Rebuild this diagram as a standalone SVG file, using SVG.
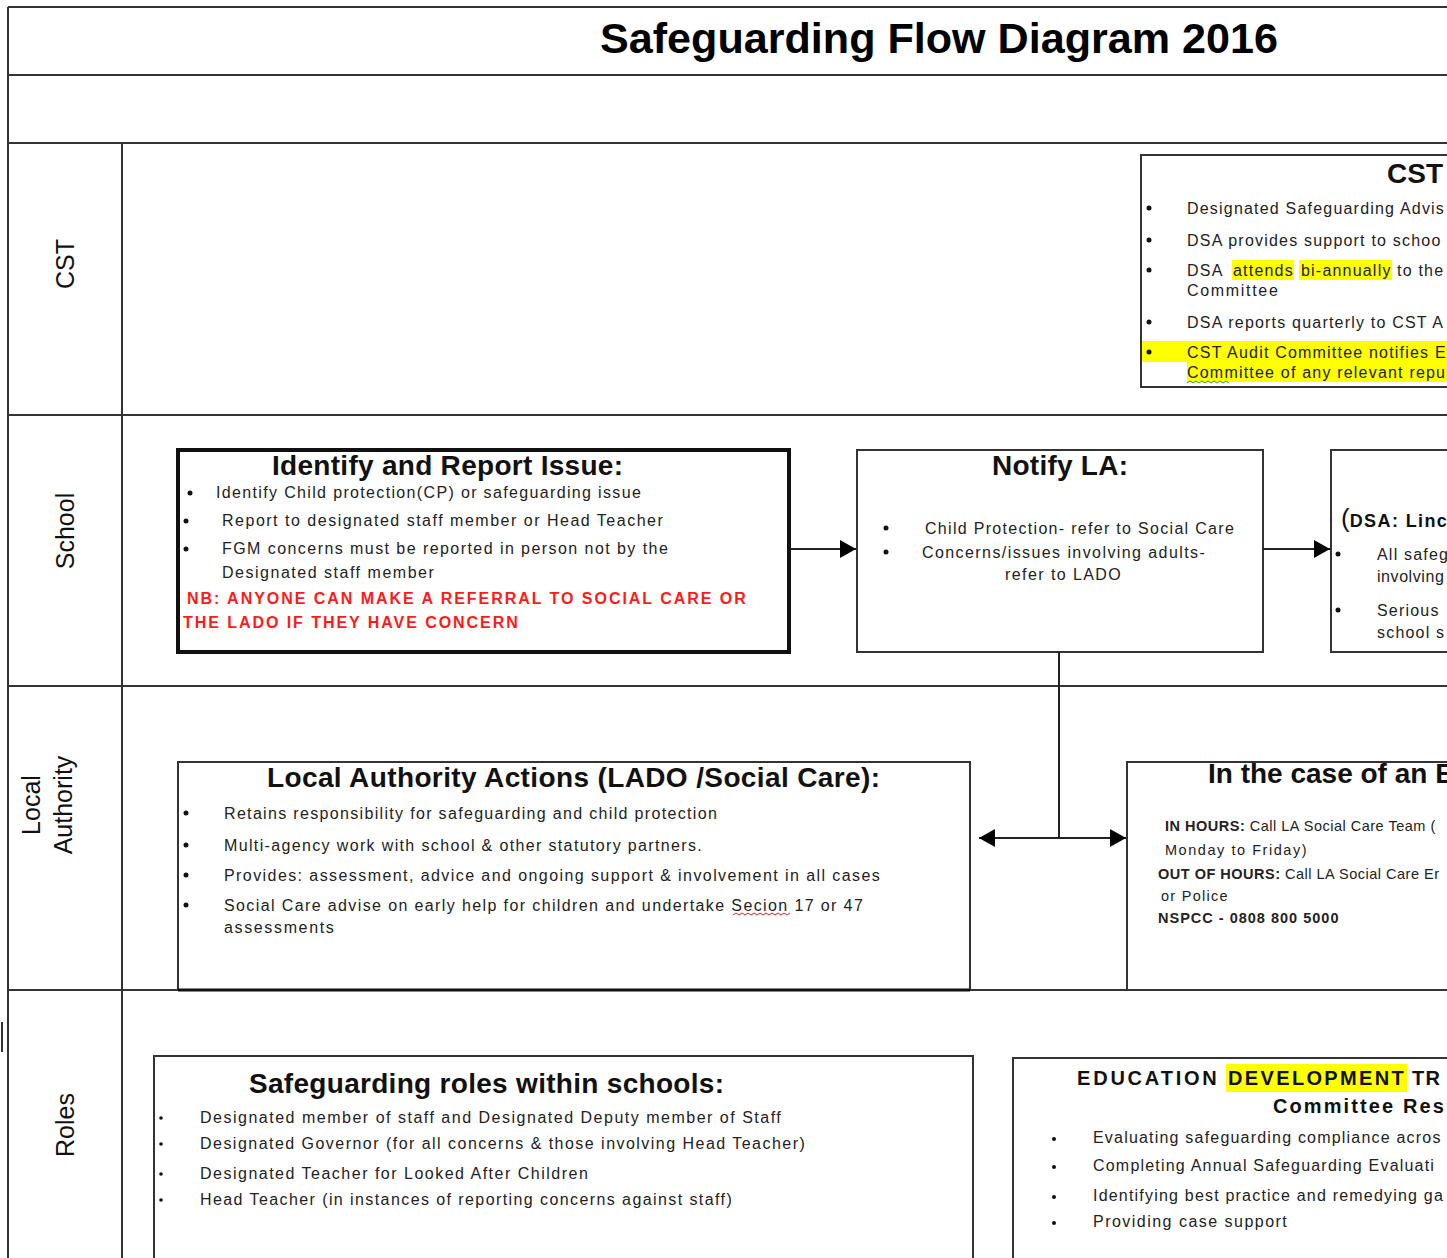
<svg xmlns="http://www.w3.org/2000/svg" width="1447" height="1258" viewBox="0 0 1447 1258">
<defs>
<style>
.grid{stroke:#333;stroke-width:2;fill:none}
.box{fill:#fff;stroke:#333;stroke-width:2}
.thick{fill:#fff;stroke:#111;stroke-width:4}
.t{font-family:"Liberation Sans",Arial,sans-serif;font-size:16px;fill:#222;letter-spacing:1.2px}
.h{font-family:"Liberation Sans",Arial,sans-serif;font-size:28px;font-weight:bold;fill:#111}
.lane{font-family:"Liberation Sans",Arial,sans-serif;font-size:25px;fill:#111}
.red{font-family:"Liberation Sans",Arial,sans-serif;font-size:16px;font-weight:bold;fill:#ff1a1a;letter-spacing:1.3px}
.cal{font-family:"Liberation Sans",Arial,sans-serif;font-size:14.5px;fill:#222;letter-spacing:0.5px}
.calb{font-weight:bold}
.edt{font-family:"Liberation Sans",Arial,sans-serif;font-size:20px;font-weight:bold;fill:#111;letter-spacing:1.2px}
.hl{fill:#ffff00}
.bul{fill:#111}
.conn{stroke:#222;stroke-width:2;fill:none}
</style>
<marker id="ah" viewBox="0 0 16 18" refX="16" refY="9" markerWidth="16" markerHeight="18" markerUnits="userSpaceOnUse" orient="auto-start-reverse">
<path d="M0,0 L16,9 L0,18 Z" fill="#000"/>
</marker>
</defs>
<rect width="1447" height="1258" fill="#fff"/>

<g id="grid">
<line class="grid" x1="8" y1="7" x2="1447" y2="7"/>
<line class="grid" x1="8" y1="7" x2="8" y2="1258"/>
<line class="grid" x1="8" y1="75" x2="1447" y2="75"/>
<line class="grid" x1="8" y1="143" x2="1447" y2="143"/>
<line class="grid" x1="122" y1="143" x2="122" y2="1258"/>
<line class="grid" x1="8" y1="415" x2="1447" y2="415"/>
<line class="grid" x1="8" y1="686" x2="1447" y2="686"/>
<line class="grid" x1="8" y1="990" x2="1447" y2="990"/>
<line x1="2" y1="1022" x2="2" y2="1052" stroke="#333" stroke-width="2"/>
</g>

<g id="title">
<text x="600" y="53" font-family="Liberation Sans,Arial,sans-serif" font-size="42" font-weight="bold" fill="#000" textLength="678" lengthAdjust="spacingAndGlyphs">Safeguarding Flow Diagram 2016</text>
</g>

<g id="lane-labels">
<text class="lane" transform="translate(74,264) rotate(-90)" text-anchor="middle">CST</text>
<text class="lane" transform="translate(74,531) rotate(-90)" text-anchor="middle">School</text>
<text class="lane" transform="translate(40,805) rotate(-90)" text-anchor="middle">Local</text>
<text class="lane" transform="translate(72,805) rotate(-90)" text-anchor="middle">Authority</text>
<text class="lane" transform="translate(74,1125) rotate(-90)" text-anchor="middle">Roles</text>
</g>

<g id="cst-box">
<rect class="box" x="1141" y="155" width="320" height="232"/>
<rect class="hl" x="1232" y="260" width="62" height="20"/>
<rect class="hl" x="1299" y="260" width="93" height="20"/>
<rect class="hl" x="1142" y="341" width="306" height="21"/>
<rect class="hl" x="1187" y="362" width="261" height="20"/>
<text class="h" x="1387" y="183" textLength="56">CST</text>
<circle class="bul" cx="1149" cy="208" r="2.5"/>
<circle class="bul" cx="1149" cy="240" r="2.5"/>
<circle class="bul" cx="1149" cy="270" r="2.5"/>
<circle class="bul" cx="1149" cy="322" r="2.5"/>
<circle class="bul" cx="1149" cy="352" r="2.5"/>
<text class="t" x="1187" y="214">Designated Safeguarding Advis</text>
<text class="t" x="1187" y="246">DSA provides support to schoo</text>
<text class="t" y="276"><tspan x="1187">DSA</tspan><tspan x="1233">attends</tspan><tspan x="1301">bi-annually</tspan><tspan x="1397">to the</tspan></text>
<text class="t" x="1187" y="296" textLength="92">Committee</text>
<text class="t" x="1187" y="328">DSA reports quarterly to CST A</text>
<text class="t" x="1187" y="358">CST Audit Committee notifies E</text>
<text class="t" x="1187" y="378">Committee of any relevant repu</text>
<polyline points="1187,383 1190,381 1193,383 1196,381 1199,383 1202,381 1205,383 1208,381 1211,383 1214,381 1217,383 1220,381 1223,383 1226,381 1229,383" fill="none" stroke="#2a9d2a" stroke-width="1"/>
</g>

<g id="identify">
<rect class="thick" x="178" y="450" width="611" height="202"/>
<text class="h" x="272" y="475" textLength="351">Identify and Report Issue:</text>
<circle class="bul" cx="190" cy="493" r="2.5"/>
<circle class="bul" cx="186" cy="521" r="2.5"/>
<circle class="bul" cx="186" cy="549" r="2.5"/>
<text class="t" x="216" y="498" textLength="426">Identify Child protection(CP) or safeguarding issue</text>
<text class="t" x="222" y="526" textLength="442">Report to designated staff member or Head Teacher</text>
<text class="t" x="222" y="554" textLength="447">FGM concerns must be reported in person not by the</text>
<text class="t" x="222" y="578" textLength="213">Designated staff member</text>
<text class="red" x="187" y="604" textLength="560">NB: ANYONE CAN MAKE A REFERRAL TO SOCIAL CARE OR</text>
<text class="red" x="183" y="628" textLength="336">THE LADO IF THEY HAVE CONCERN</text>
</g>

<g id="notify-la">
<rect class="box" x="857" y="450" width="406" height="202"/>
<text class="h" x="992" y="475" textLength="136">Notify LA:</text>
<circle class="bul" cx="886" cy="528" r="2.5"/>
<circle class="bul" cx="886" cy="552" r="2.5"/>
<text class="t" x="925" y="534" textLength="310">Child Protection- refer to Social Care</text>
<text class="t" x="922" y="558" textLength="284">Concerns/issues involving adults-</text>
<text class="t" x="1005" y="580" textLength="117">refer to LADO</text>
</g>

<g id="dsa">
<rect class="box" x="1331" y="450" width="130" height="202"/>
<text x="1341" y="527" font-family="Liberation Sans,Arial,sans-serif" fill="#111"><tspan font-size="26">(</tspan><tspan font-size="18" font-weight="bold" letter-spacing="1.4">DSA: Linc</tspan></text>
<circle class="bul" cx="1338" cy="554" r="2.5"/>
<circle class="bul" cx="1338" cy="610" r="2.5"/>
<text class="t" x="1377" y="560">All safeg</text>
<text class="t" x="1377" y="582" textLength="68">involving</text>
<text class="t" x="1377" y="616">Serious</text>
<text class="t" x="1377" y="638">school s</text>
</g>

<g id="la-actions">
<rect class="box" x="178" y="762" width="792" height="228"/>
<line x1="178" y1="990" x2="970" y2="990" stroke="#111" stroke-width="3"/>
<text class="h" x="267" y="787" textLength="613">Local Authority Actions (LADO /Social Care):</text>
<circle class="bul" cx="186" cy="813" r="2.5"/>
<circle class="bul" cx="186" cy="845" r="2.5"/>
<circle class="bul" cx="186" cy="875" r="2.5"/>
<circle class="bul" cx="186" cy="905" r="2.5"/>
<text class="t" x="224" y="819" textLength="494">Retains responsibility for safeguarding and child protection</text>
<text class="t" x="224" y="851" textLength="479">Multi-agency work with school &amp; other statutory partners.</text>
<text class="t" x="224" y="881" textLength="657">Provides: assessment, advice and ongoing support &amp; involvement in all cases</text>
<text class="t" x="224" y="911" textLength="640">Social Care advise on early help for children and undertake Secion 17 or 47</text>
<text class="t" x="224" y="933" textLength="111">assessments</text>
<polyline points="733,915 736,913 739,915 742,913 745,915 748,913 751,915 754,913 757,915 760,913 763,915 766,913 769,915 772,913 775,915 778,913 781,915 784,913 787,915 790,913" fill="none" stroke="#e02020" stroke-width="1"/>
</g>

<g id="emergency">
<rect class="box" x="1127" y="762" width="340" height="228"/>
<text class="h" x="1208" y="783">In the case of an E</text>
<text class="cal" x="1165" y="831"><tspan class="calb">IN HOURS:</tspan> Call LA Social Care Team (</text>
<text class="cal" x="1165" y="855" textLength="142">Monday to Friday)</text>
<text class="cal" x="1158" y="879"><tspan class="calb">OUT OF HOURS:</tspan> Call LA Social Care Er</text>
<text class="cal" x="1161" y="901" textLength="67">or Police</text>
<text class="cal calb" x="1158" y="923" textLength="181">NSPCC - 0808 800 5000</text>
</g>

<g id="roles">
<rect class="box" x="154" y="1056" width="819" height="220"/>
<text class="h" x="249" y="1093" textLength="475">Safeguarding roles within schools:</text>
<circle class="bul" cx="161" cy="1118" r="1.8"/>
<circle class="bul" cx="161" cy="1144" r="1.8"/>
<circle class="bul" cx="161" cy="1174" r="1.8"/>
<circle class="bul" cx="161" cy="1200" r="1.8"/>
<text class="t" x="200" y="1123" textLength="582">Designated member of staff and Designated Deputy member of Staff</text>
<text class="t" x="200" y="1149" textLength="606">Designated Governor (for all concerns &amp; those involving Head Teacher)</text>
<text class="t" x="200" y="1179" textLength="389">Designated Teacher for Looked After Children</text>
<text class="t" x="200" y="1205" textLength="533">Head Teacher (in instances of reporting concerns against staff)</text>
</g>

<g id="edt">
<rect class="box" x="1013" y="1058" width="450" height="220"/>
<rect class="hl" x="1226" y="1064" width="181" height="28"/>
<text class="edt" x="1077" y="1085" textLength="141">EDUCATION</text>
<text class="edt" x="1228" y="1085" textLength="177">DEVELOPMENT</text>
<text class="edt" x="1412" y="1085">TR</text>
<text class="edt" x="1273" y="1113" textLength="172">Committee Res</text>
<circle class="bul" cx="1054" cy="1139" r="2"/>
<circle class="bul" cx="1054" cy="1167" r="2"/>
<circle class="bul" cx="1054" cy="1197" r="2"/>
<circle class="bul" cx="1054" cy="1223" r="2"/>
<text class="t" x="1093" y="1143">Evaluating safeguarding compliance acros</text>
<text class="t" x="1093" y="1171">Completing Annual Safeguarding Evaluati</text>
<text class="t" x="1093" y="1201">Identifying best practice and remedying ga</text>
<text class="t" x="1093" y="1227" textLength="195">Providing case support</text>
</g>

<g id="connectors">
<line class="conn" x1="790" y1="549" x2="856" y2="549" marker-end="url(#ah)"/>
<line class="conn" x1="1263" y1="549" x2="1330" y2="549" marker-end="url(#ah)"/>
<line class="conn" x1="1059" y1="652" x2="1059" y2="838"/>
<line class="conn" x1="979" y1="838" x2="1126" y2="838" marker-start="url(#ah)" marker-end="url(#ah)"/>
</g>
</svg>
